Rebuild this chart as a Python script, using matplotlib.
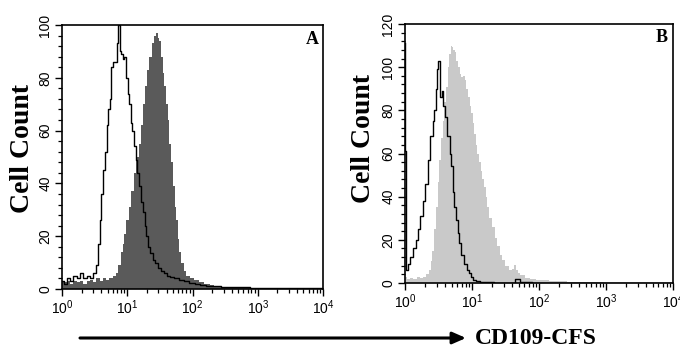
import numpy as np
import matplotlib
matplotlib.use("Agg")
import matplotlib.pyplot as plt
from matplotlib.patches import FancyArrowPatch
from matplotlib.ticker import MultipleLocator, LogLocator, NullFormatter

# ---------------- data (log10 of fluorescence intensity, cell count) ----------------
a_ctrl_log = [0.00, 0.05, 0.10, 0.15, 0.20, 0.25, 0.30, 0.35, 0.40, 0.45, 0.50, 0.53, 0.56, 0.59,
              0.62, 0.65, 0.68, 0.70, 0.72, 0.74, 0.77, 0.80, 0.83, 0.85, 0.875, 0.89, 0.915, 0.94,
              0.965, 0.99, 1.02, 1.04, 1.07, 1.09, 1.12, 1.14, 1.17, 1.20, 1.23, 1.25, 1.28, 1.30,
              1.34, 1.37, 1.41, 1.45, 1.49, 1.53, 1.58, 1.63, 1.68, 1.75, 1.83, 1.91, 1.99, 2.07,
              2.15, 2.25, 2.35, 2.50, 2.70, 3.00, 3.30, 3.60, 3.90, 4.00]
a_ctrl_cnt = [3, 2, 4, 3, 5, 4, 6, 4, 5, 4, 6, 9, 17, 26,
              36, 45, 52, 62, 68, 72, 84, 86, 86, 93, 100, 90, 89, 87,
              88, 80, 74, 70, 63, 60, 54, 49, 44, 39, 33, 29, 24, 20,
              16, 13.5, 11, 10, 8, 7, 6, 5, 4.5, 4, 3.4, 3, 2.4, 2,
              1.5, 1.2, 1, 0.8, 0.6, 0.5, 0.5, 0.4, 0.5, 0.3]

a_cd109_log = [0.00, 0.05, 0.10, 0.15, 0.20, 0.25, 0.30, 0.35, 0.40, 0.45, 0.50, 0.55, 0.60, 0.65,
               0.70, 0.75, 0.80, 0.84, 0.88, 0.915, 0.94, 0.965, 1.00, 1.04, 1.08, 1.12, 1.16, 1.20,
               1.23, 1.25, 1.29, 1.32, 1.36, 1.40, 1.43, 1.45, 1.48, 1.50, 1.53, 1.56, 1.58, 1.61,
               1.63, 1.66, 1.68, 1.71, 1.74, 1.76, 1.79, 1.81, 1.85, 1.88, 1.93, 1.99, 2.05, 2.14,
               2.22, 2.30, 2.37, 2.45, 2.60, 2.80, 3.00, 3.20, 3.50, 3.80, 4.00]
a_cd109_cnt = [3, 2.5, 3, 2, 3, 2.5, 3, 2, 3, 3.5, 2.5, 4, 3, 4,
               3.5, 4, 5, 6, 9, 14, 17, 21, 26, 31, 37, 44, 50, 55,
               62, 70, 77, 83, 88, 93, 96, 97, 95, 94, 88, 82, 77, 70,
               64, 55, 48, 39, 31, 26, 19, 14, 10, 7, 5, 4, 3.5, 2.7,
               2, 1.5, 1, 0.6, 0.4, 0.3, 0.4, 0.2, 0.3, 0.2, 0.2]

b_ctrl_log = [0.00, 0.01, 0.02, 0.06, 0.10, 0.14, 0.175, 0.21, 0.25, 0.29, 0.32, 0.36, 0.40, 0.43,
              0.45, 0.47, 0.48, 0.51, 0.53, 0.56, 0.58, 0.60, 0.65, 0.68, 0.70, 0.72, 0.75, 0.77,
              0.80, 0.82, 0.86, 0.90, 0.94, 0.97, 1.00, 1.04, 1.09, 1.14, 1.25, 1.40, 1.60, 1.69,
              1.75, 2.00, 2.50, 3.00, 3.50, 4.00]
b_ctrl_cnt = [111, 61, 6, 9, 12, 16, 20, 25, 31, 38, 46, 57, 68, 75,
              80, 90, 99, 103, 86, 89, 82, 77, 68, 60, 54, 42, 35, 29,
              23, 18.5, 13, 9, 6, 4.6, 3, 1.4, 0.8, 0.3, 0.3, 0.2, 0.2, 2,
              0.3, 0.2, 0.1, 0.1, 0.1, 0.1]

b_cd109_log = [0.00, 0.05, 0.10, 0.15, 0.20, 0.25, 0.30, 0.34, 0.37, 0.40, 0.42, 0.45, 0.47, 0.50,
               0.52, 0.55, 0.57, 0.60, 0.62, 0.65, 0.67, 0.69, 0.71, 0.73, 0.75, 0.78, 0.80, 0.83,
               0.85, 0.88, 0.90, 0.93, 0.95, 0.98, 1.00, 1.02, 1.04, 1.07, 1.09, 1.12, 1.14, 1.17,
               1.19, 1.22, 1.24, 1.28, 1.32, 1.36, 1.39, 1.43, 1.47, 1.52, 1.57, 1.61, 1.64, 1.67,
               1.69, 1.75, 1.82, 1.90, 2.01, 2.10, 2.20, 2.30, 2.50, 2.70, 2.90, 3.00, 3.50, 4.00]
b_cd109_cnt = [3, 2, 2.5, 2, 3, 2.5, 3, 4, 6, 10, 15, 25, 35, 47,
               57, 67, 75, 84, 91, 100, 106, 110, 109.5, 108, 107, 103, 100, 97,
               95.6, 96, 94, 90, 86, 82, 78.6, 74, 69, 64, 60, 56, 52, 48,
               44.6, 40, 35, 30, 26, 21, 17, 13, 10.6, 8, 6, 6.5, 8.3, 6,
               4.6, 3.5, 2.3, 2, 1.4, 1.2, 1, 0.8, 0.6, 0.6, 0.5, 0.1, 0.1, 0]

x_tick_exponents = [0, 1, 2, 3, 4]
panel_labels = ["A", "B"]
y_max = [100, 120]
x_axis_label = "CD109-CFS"
y_axis_label = "Cell Count"

# ---------------- figure ----------------
plt.rcParams["font.family"] = ["Liberation Sans", "DejaVu Sans"]
plt.rcParams["mathtext.fontset"] = "custom"
plt.rcParams["mathtext.rm"] = "Liberation Sans"
plt.rcParams["mathtext.it"] = "Liberation Sans:italic"
plt.rcParams["mathtext.bf"] = "Liberation Sans:bold"
W, H = 680, 347
fig = plt.figure(figsize=(6.8, 3.47), dpi=100)

def px_axes(l, t, r, b):
    return [l / W, 1 - b / H, (r - l) / W, (b - t) / H]

axA = fig.add_axes(px_axes(62, 25, 323, 289))
axB = fig.add_axes(px_axes(405, 24, 673, 283))

serif_bold = dict(family=["Liberation Serif", "DejaVu Serif"], weight="bold")

def draw_panel(ax, fill_log, fill_cnt, fill_color, line_log, line_cnt, ymax, label, label_xy):
    fx = 10 ** np.asarray(fill_log)
    lx = 10 ** np.asarray(line_log)
    ax.fill_between(fx, fill_cnt, 0, step="mid", color=fill_color, linewidth=0, zorder=1)
    ax.step(lx, line_cnt, where="mid", color="black", linewidth=1.0, zorder=2)
    ax.set_xscale("log")
    ax.set_xlim(10 ** x_tick_exponents[0], 10 ** x_tick_exponents[-1])
    ax.set_ylim(0, ymax)
    ax.xaxis.set_major_locator(LogLocator(base=10, numticks=10))
    ax.xaxis.set_minor_locator(LogLocator(base=10, subs=np.arange(2, 10), numticks=10))
    ax.xaxis.set_minor_formatter(NullFormatter())
    ax.yaxis.set_major_locator(MultipleLocator(20))
    ax.yaxis.set_minor_locator(MultipleLocator(4))
    ax.tick_params(axis="both", which="major", direction="out", length=5, width=1.0,
                   labelsize=10, color="black")
    ax.tick_params(axis="both", which="minor", direction="out", length=3, width=0.9)
    ax.tick_params(axis="y", which="major", pad=2)
    ax.tick_params(axis="x", which="major", pad=2)
    for t in ax.get_yticklabels():
        t.set_rotation(90)
        t.set_va("center")
    for s in ax.spines.values():
        s.set_linewidth(1.2)
    fig.text(label_xy[0] / W, 1 - label_xy[1] / H, label, ha="center", va="center",
             fontsize=13, **serif_bold)

draw_panel(axA, a_cd109_log, a_cd109_cnt, "#5a5a5a", a_ctrl_log, a_ctrl_cnt, y_max[0],
           panel_labels[0], (312, 39))
draw_panel(axB, b_cd109_log, b_cd109_cnt, "#c9c9c9", b_ctrl_log, b_ctrl_cnt, y_max[1],
           panel_labels[1], (662, 38))

fig.text(22.5 / W, 1 - 148.5 / H, y_axis_label, rotation=90, ha="center", va="center",
         fontsize=20, **serif_bold)
fig.text(364 / W, 1 - 139 / H, y_axis_label, rotation=90, ha="center", va="center",
         fontsize=20, **serif_bold)

# arrow and x label
fig.add_artist(FancyArrowPatch(
    (80 / W, 1 - 338 / H), (466 / W, 1 - 338 / H), transform=fig.transFigure,
    arrowstyle="-|>,head_length=8,head_width=3.5", color="black", linewidth=2.2,
    mutation_scale=1.0, shrinkA=0, shrinkB=0))
fig.text(475 / W, 1 - 338 / H, x_axis_label, ha="left", va="center", fontsize=17, **serif_bold)

fig.savefig("out.png", dpi=100)
